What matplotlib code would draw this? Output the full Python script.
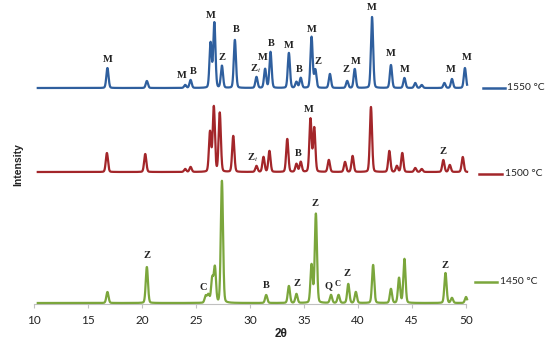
import numpy as np
import matplotlib
matplotlib.use("Agg")
import matplotlib.pyplot as plt
from matplotlib.lines import Line2D

plt.rcParams['mathtext.fontset'] = 'stix'

# peak positions (2theta) and heights, per sample
pos_1550 = [16.8, 20.45, 24.0, 24.5, 26.35, 26.7, 27.4, 28.6, 30.6, 31.4, 31.9, 33.6, 34.3, 34.7,
            35.7, 36.05, 37.4, 39.0, 39.7, 41.3, 43.05, 44.3, 45.3, 45.9, 48.0, 48.7, 49.9]
hgt_1550 = [20, 7, 3, 8, 45, 65, 22, 48, 11, 19, 36, 35, 6, 10,
            51, 18, 14, 7, 19, 71, 23, 10, 5, 3, 5, 9, 20]

pos_1500 = [16.75, 20.3, 24.0, 24.5, 26.3, 26.65, 27.2, 28.45, 30.6, 31.25, 31.8, 33.45, 34.3, 34.7,
            35.6, 35.95, 37.3, 38.8, 39.5, 41.2, 42.9, 43.6, 44.1, 45.3, 45.9, 47.9, 48.5, 49.7]
hgt_1500 = [19, 18, 3, 5, 40, 65, 59, 36, 6, 15, 21, 33, 8, 10,
            53, 44, 12, 10, 16, 65, 21, 6, 19, 4, 3, 12, 7, 15]

pos_1450 = [16.8, 20.45, 25.9, 26.15, 26.5, 26.75, 27.4, 31.5, 33.6, 34.3, 35.7, 36.1, 37.5, 38.2,
            39.1, 39.8, 41.4, 43.05, 43.8, 44.3, 48.1, 48.7, 50.0]
hgt_1450 = [11, 36, 7, 8, 24, 35, 122, 8, 17, 9, 38, 89, 8, 8,
            19, 11, 38, 14, 25, 44, 30, 5, 6]

# phase labels: (2theta, text, height above the pattern baseline)
lab_1550 = [(16.8, 'M', 29), (23.7, 'M', 12), (24.7, 'B', 16), (26.4, 'M', 72), (27.4, 'Z', 31),
            (28.7, 'B', 59), (30.5, r'Z$_\mathit{t}$', 19), (31.2, 'M', 31), (32.0, 'B', 45),
            (33.6, 'M', 43), (34.6, 'B', 19), (35.7, 'M', 58), (36.3, 'Z', 26), (38.9, 'Z', 18),
            (39.8, 'M', 27), (41.3, 'M', 81), (43.05, 'M', 35), (44.35, 'M', 19), (48.6, 'M', 18),
            (50.1, 'M', 30)]
lab_1500 = [(30.2, r'Z$_\mathit{t}$', 14), (34.5, 'B', 19), (35.4, 'M', 62), (47.9, 'Z', 21)]
lab_1450 = [(20.5, 'Z', 47), (25.7, 'C', 15), (31.5, 'B', 18), (34.35, 'Z', 19), (36.0, 'Z', 100),
            (37.3, 'Q', 17), (38.15, 'C', 19), (39.0, 'Z', 29), (48.05, 'Z', 38)]

temps = ['1550 °C', '1500 °C', '1450 °C']


def pattern(x, pos, hgt, fwhm=0.24):
    y = np.zeros_like(x)
    s = fwhm / 2.355
    for p, h in zip(pos, hgt):
        y += h * (0.85 * np.exp(-0.5 * ((x - p) / s) ** 2) + 0.15 / (1 + ((x - p) / (fwhm / 2)) ** 2))
    return y


x = np.linspace(10.35, 50.1, 5000)

series = [
    (pos_1550, hgt_1550, lab_1550, 216, '#2f5f9e', (483, 505, 507, 88)),
    (pos_1500, hgt_1500, lab_1500, 132, '#a3262a', (479, 502, 505, 174)),
    (pos_1450, hgt_1450, lab_1450, 1, '#7ba63c', (475, 497, 500, 282)),
]

W, H = 548, 340
fig = plt.figure(figsize=(W / 100, H / 100), dpi=100)
ax = fig.add_axes([34 / W, 1 - 304 / H, 432 / W, 304 / H])

for (pos, hgt, labs, off, col, leg), name in zip(series, temps):
    ax.plot(x, pattern(x, pos, hgt) + off, color=col, lw=1.6, clip_on=False, zorder=3)
    for lx, txt, ly in labs:
        fs = 6 if txt == 'C' and lx > 38 else 7.5
        ax.text(lx, ly + off, txt, ha='center', va='center', fontsize=fs,
                family='Liberation Serif', fontweight='bold', color='#222222')
    x0, x1, xt, yl = leg
    fig.add_artist(Line2D([x0 / W, x1 / W], [1 - yl / H, 1 - yl / H], color=col, lw=1.8))
    fig.text(xt / W, 1 - yl / H, name, ha='left', va='center', fontsize=7.4,
             family='Lato', color='#222222')

ax.set_xlim(10, 50)
ax.set_ylim(0, 304)
ax.set_xticks(range(10, 51, 5))
ax.set_yticks([])
for s in ['left', 'right', 'top']:
    ax.spines[s].set_visible(False)
ax.spines['bottom'].set_color('#c0c0c0')
ax.tick_params(axis='x', colors='#c0c0c0', labelcolor='#222222', length=3, labelsize=8.5, pad=5)
for t in ax.get_xticklabels():
    t.set_family('Lato')

fig.text(18 / W, 1 - 165 / H, 'Intensity', rotation=90, ha='center', va='center',
         fontsize=7.5, fontweight='bold', family='Liberation Sans', color='#222222')
fig.text(281 / W, 1 - 334 / H, '2θ', ha='center', va='center', fontsize=8.5,
         fontweight='bold', family='Liberation Sans', color='#222222')

fig.savefig('out.png', dpi=100)
